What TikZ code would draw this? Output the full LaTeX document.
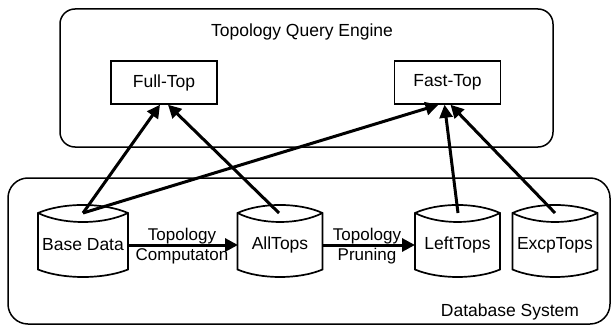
\documentclass[tikz,border=0pt]{standalone}
\usepackage{fontspec}
\setmainfont{Liberation Sans}
\usetikzlibrary{arrows.meta}
\tikzset{
  frame/.style={draw, line width=1.5pt, rounded corners=#1},
  qbox/.style={draw, line width=1.5pt, minimum width=106pt, minimum height=43pt, inner sep=0pt},
  dbline/.style={line width=1.7pt, fill=white},
  dbtext/.style={inner sep=0pt},
  flow/.style={line width=3pt, -{Triangle[length=13pt,width=13pt]}},
  lbl/.style={align=center, inner sep=0pt, font=\fontsize{17}{20}\selectfont},
}
\newcommand\dbcyl[5]{% name, cx, cy(text), half width, text
  \begin{scope}[shift={(#2,241.5)}]
    \draw[dbline] (-#4,-28.5) .. controls (-#4*0.45,-39.2) and (#4*0.45,-39.2) .. (#4,-28.5)
      -- (#4,28) .. controls (#4*0.45,38) and (-#4*0.45,38) .. (-#4,28) -- cycle;
    \draw[dbline] (-#4,-28.5) .. controls (-#4*0.45,-16.5) and (#4*0.45,-16.5) .. (#4,-28.5);
  \end{scope}
  \node[dbtext] (#1) at (#2,#3) {#5};
}
\begin{document}
\begin{tikzpicture}[x=1pt,y=-1pt,font=\fontsize{17.5}{19}\selectfont]
\useasboundingbox (0,0) rectangle (612,326);
% frames
\draw[frame=15pt] (60,9) rectangle (553,147);
\node (qe) at (302,32) {Topology Query Engine};
\draw[frame=20pt] (8,178) rectangle (610,324);
\node (dbs) at (510,312) {Database System};
% query boxes
\node[qbox] (full) at (164,82.5) {Full-Top};
\node[qbox] (fast) at (447.5,82.5) {Fast-Top};
% cylinders
\dbcyl{base}{83}{245}{45}{Base Data}
\dbcyl{all}{280}{245}{42.5}{AllTops}
\dbcyl{left}{457.5}{245}{42.5}{LeftTops}
\dbcyl{excp}{555}{245}{42.5}{ExcpTops}
% anchor points on cylinder tops
\coordinate (baseT) at (83,213);
\coordinate (allT) at (279,213);
\coordinate (leftT) at (458,213);
\coordinate (excpT) at (555,213);
% arrows
\draw[flow] (baseT) -- ([xshift=-4pt]full.south);
\draw[flow] (allT) -- ([xshift=4pt]full.south);
\draw[flow] (baseT) -- ([xshift=-9pt]fast.south);
\draw[flow] (leftT) -- ([xshift=-3pt]fast.south);
\draw[flow] (excpT) -- ([xshift=3pt]fast.south);
\draw[flow] (base.east -| 128,0) -- (all.west -| 238,0);
\draw[flow] (all.east -| 322,0) -- (left.west -| 415,0);
\node[lbl] (l1) at (182,246) {Topology\\Computaton};
\node[lbl] (l2) at (367,246) {Topology\\Pruning};
\end{tikzpicture}
\end{document}
